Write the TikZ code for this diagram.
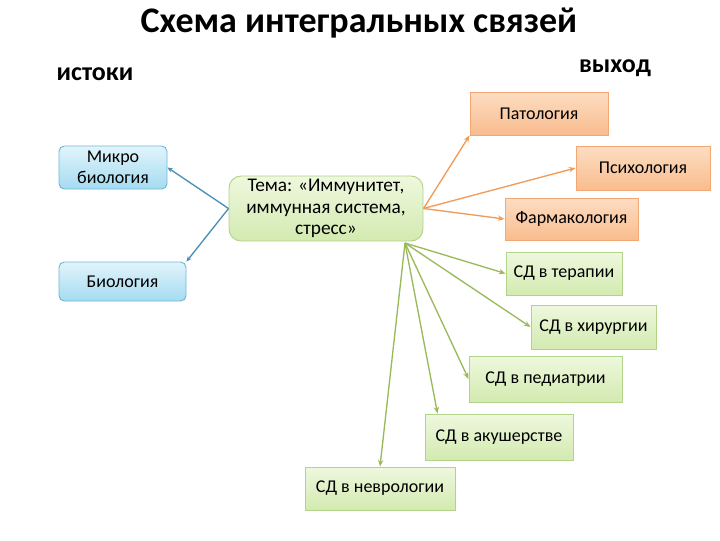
\documentclass[tikz,border=0pt]{standalone}
\usepackage{fontspec}
\setmainfont{Carlito}
\usetikzlibrary{arrows.meta,calc}
\definecolor{orline}{HTML}{F39A55}
\definecolor{orborder}{HTML}{F2A874}
\definecolor{ortop}{HTML}{FDDDC2}
\definecolor{orbot}{HTML}{F9BC8E}
\definecolor{grline}{HTML}{9AB95A}
\definecolor{grborder}{HTML}{B3D28A}
\definecolor{grtop}{HTML}{EEF8DE}
\definecolor{grbot}{HTML}{D3EAB0}
\definecolor{blline}{HTML}{4A8FB2}
\definecolor{blborder}{HTML}{6FB7D6}
\definecolor{bltop}{HTML}{E2F4FB}
\definecolor{blbot}{HTML}{A4DBF1}
\begin{document}
\begin{tikzpicture}[x=0.75pt,y=-0.75pt,
  box/.style={draw, line width=0.7pt, align=center, font=\fontsize{13.5}{15.5}\selectfont, inner sep=2pt},
  orbox/.style={box, draw=orborder, top color=ortop, bottom color=orbot},
  grbox/.style={box, draw=grborder, top color=grtop, bottom color=grbot},
  blbox/.style={box, draw=blborder, top color=bltop, bottom color=blbot, rounded corners=4pt},
  temabox/.style={box, draw=grborder, top color=grtop, bottom color=grbot, rounded corners=9pt, font=\fontsize{14.5}{16}\selectfont},
  orarr/.style={draw=orline, line width=1pt, -{Stealth[length=5pt,width=4pt]}},
  grarr/.style={draw=grline, line width=1pt, -{Stealth[length=5pt,width=4pt]}},
  blarr/.style={draw=blline, line width=1pt, -{Stealth[length=4pt,width=3.5pt]}},
  hdr/.style={font=\bfseries\fontsize{19.5}{22}\selectfont}]
\useasboundingbox (0,0) rectangle (720,540);
\node[font=\bfseries\fontsize{27}{30}\selectfont] (title) at (359,23) {Схема интегральных связей};
\node[hdr] (ist) at (95,74) {истоки};
\node[hdr] (vyh) at (615,68) {выход};

\node[orbox, minimum width=138*0.75pt, minimum height=43*0.75pt] (pat) at (539,113.5) {Патология};
\node[orbox, minimum width=134*0.75pt, minimum height=44*0.75pt] (psy) at (643,168) {Психология};
\node[orbox, minimum width=133*0.75pt, minimum height=42*0.75pt] (farm) at (571.5,219) {Фармакология};

\node[grbox, minimum width=116*0.75pt, minimum height=43*0.75pt] (ter) at (564,273.5) {СД в терапии};
\node[grbox, minimum width=125*0.75pt, minimum height=44*0.75pt] (hir) at (593.5,327) {СД в хирургии};
\node[grbox, minimum width=153*0.75pt, minimum height=46*0.75pt] (ped) at (545.5,379) {СД в педиатрии};
\node[grbox, minimum width=148*0.75pt, minimum height=46*0.75pt] (aku) at (499,437) {СД в акушерстве};
\node[grbox, minimum width=150*0.75pt, minimum height=43*0.75pt] (nev) at (380,488.5) {СД в неврологии};

\node[temabox, minimum width=194*0.75pt, minimum height=65*0.75pt] (tema) at (326,208.5) {Тема: «Иммунитет,\\иммунная система,\\стресс»};

\node[blbox, minimum width=108*0.75pt, minimum height=43*0.75pt] (micro) at (113,167.5) {Микро\\биология};
\node[blbox, minimum width=127*0.75pt, minimum height=39*0.75pt] (bio) at (122.5,281.5) {Биология};

\coordinate (gs) at (405,243);

\draw[blarr] (tema.west) -- (micro.east);
\draw[blarr] (tema.west) -- (bio.north east);

\draw[orarr] (tema.east) -- (pat.south west);
\draw[orarr] (tema.east) -- (psy.west);
\draw[orarr] (tema.east) -- (farm.west);

\draw[grarr] (gs) -- (ter.west);
\draw[grarr] (gs) -- (hir.west);
\draw[grarr] (gs) -- (ped.west);
\draw[grarr] (gs) -- ($(aku.north west)+(13,0)$);
\draw[grarr] (gs) -- (nev.north);
\end{tikzpicture}
\end{document}
